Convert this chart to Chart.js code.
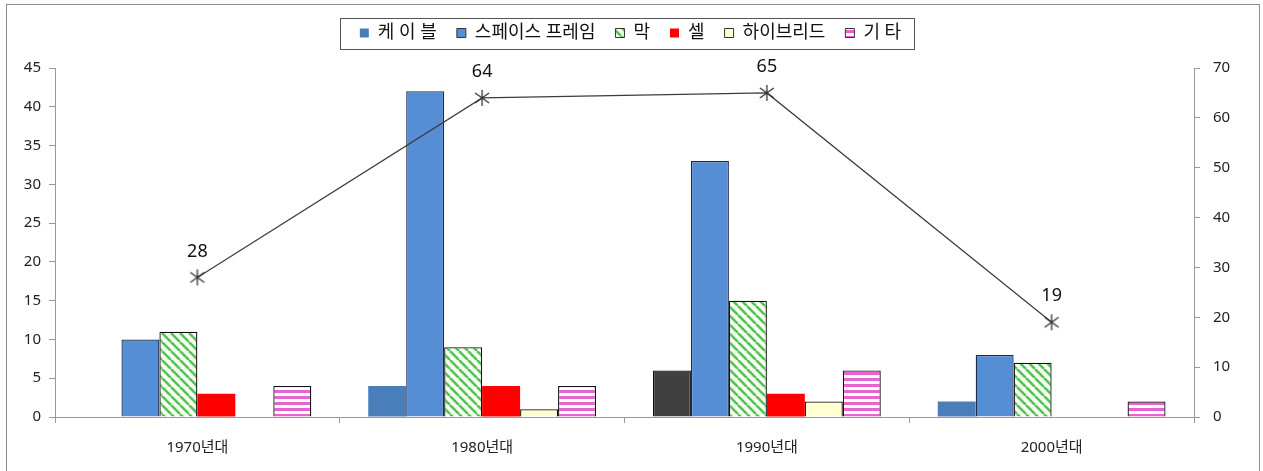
<!DOCTYPE html>
<html>
<head>
<meta charset="utf-8">
<script src="https://cdn.jsdelivr.net/npm/chart.js@4.4.1/dist/chart.umd.min.js"></script>
<style>
  html, body { margin: 0; padding: 0; background: #fff; }
  #wrap { width: 1263px; height: 471px; position: relative; }
</style>
</head>
<body>
<div id="wrap"><canvas id="c" width="1263" height="471"></canvas></div>
<script>
const decades = ["1970년대", "1980년대", "1990년대", "2000년대"];
const cable = [0, 4, 6, 2];
const spaceFrame = [10, 42, 33, 8];
const membrane = [11, 9, 15, 7];
const cell = [3, 4, 3, 0];
const hybrid = [0, 1, 2, 0];
const others = [4, 4, 6, 2];
const totals = [28, 64, 65, 19];

const FONT = "'Noto Sans', 'Noto Sans CJK KR', sans-serif";

// 빗금 패턴 생성
function makePattern(size, bg, draw) {
  const cv = document.createElement("canvas");
  cv.width = size;
  cv.height = size;
  const g = cv.getContext("2d");
  g.fillStyle = bg;
  g.fillRect(0, 0, size, size);
  draw(g);
  return g.createPattern(cv, "repeat");
}

const diagGreen = makePattern(9, "#f7fdf2", (g) => {
  g.strokeStyle = "#55c455";
  g.lineWidth = 2.6;
  g.beginPath();
  for (let k = -9; k <= 18; k += 9) {
    g.moveTo(k, 0);
    g.lineTo(k + 9, 9);
  }
  g.stroke();
});

const stripePink = makePattern(6, "#ffffff", (g) => {
  g.fillStyle = "#e963cf";
  g.fillRect(0, 0, 6, 3);
});

// 6갈래 별표 마커
const asterisk = (() => {
  const cv = document.createElement("canvas");
  cv.width = 18;
  cv.height = 18;
  const g = cv.getContext("2d");
  g.strokeStyle = "#333";
  g.lineWidth = 1.3;
  g.beginPath();
  g.moveTo(9, 1);
  g.lineTo(9, 17);
  g.moveTo(2, 4);
  g.lineTo(16, 14);
  g.moveTo(16, 4);
  g.lineTo(2, 14);
  g.stroke();
  return cv;
})();

const cableColors = ["#4a7ebb", "#4a7ebb", "#404040", "#4a7ebb"];

function zeroSafe(w) {
  return (ctx) => (ctx.raw === 0 ? 0 : w);
}

const outerBorder = {
  id: "outerBorder",
  beforeDraw(chart) {
    const c = chart.ctx;
    c.save();
    c.strokeStyle = "#8c8c8c";
    c.lineWidth = 1;
    c.strokeRect(6.5, 4.5, 1253, 470);
    c.restore();
  },
};

// 범례 아래 여백 확보
const legendGap = {
  id: "legendGap",
  beforeLayout(chart) {
    const lg = chart.legend;
    if (lg && !lg._gapPatched) {
      const fit = lg.fit;
      lg.fit = function () {
        fit.call(this);
        this.height += 16;
      };
      lg._gapPatched = true;
    }
  },
};

// 범례 테두리
const legendBox = {
  id: "legendBox",
  afterDraw(chart) {
    const lg = chart.legend;
    if (!lg || !lg.legendHitBoxes.length) return;
    let l = Infinity, r = -Infinity, t = Infinity, b = -Infinity;
    lg.legendHitBoxes.forEach((h) => {
      l = Math.min(l, h.left);
      r = Math.max(r, h.left + h.width);
      t = Math.min(t, h.top);
      b = Math.max(b, h.top + h.height);
    });
    const c = chart.ctx;
    c.save();
    c.strokeStyle = "#555";
    c.lineWidth = 1;
    c.strokeRect(Math.round(l - 20) + 0.5, Math.round(t - 6) + 0.5, Math.round(r - l + 33), Math.round(b - t + 13));
    c.restore();
  },
};

// 합계 라벨
const totalLabels = {
  id: "totalLabels",
  afterDatasetsDraw(chart) {
    const idx = chart.data.datasets.findIndex((d) => d.type === "line");
    const meta = chart.getDatasetMeta(idx);
    const c = chart.ctx;
    c.save();
    c.font = "18px " + FONT;
    c.fillStyle = "#111";
    c.textAlign = "center";
    c.textBaseline = "bottom";
    meta.data.forEach((pt, i) => {
      c.fillText(String(totals[i]), pt.x, pt.y - 17);
    });
    c.restore();
  },
};

const barBase = {
  type: "bar",
  yAxisID: "y",
  barPercentage: 1,
  categoryPercentage: 0.8,
  borderSkipped: "bottom",
  order: 2,
};

new Chart(document.getElementById("c"), {
  data: {
    labels: decades,
    datasets: [
      {
        type: "line",
        label: "합계",
        data: totals,
        yAxisID: "y2",
        borderColor: "#3c3c3c",
        borderWidth: 1.2,
        tension: 0,
        pointStyle: asterisk,
        pointRadius: 8,
        order: 0,
      },
      {
        ...barBase,
        label: "케 이 블",
        data: cable,
        backgroundColor: (ctx) => cableColors[ctx.dataIndex] || cableColors[0],
        borderColor: "#111",
        borderWidth: (ctx) => (ctx.dataIndex === 2 ? 1.2 : 0),
      },
      {
        ...barBase,
        label: "스페이스 프레임",
        data: spaceFrame,
        backgroundColor: "#558ed5",
        borderColor: "#1c2a48",
        borderWidth: zeroSafe(1.3),
      },
      {
        ...barBase,
        label: "막",
        data: membrane,
        backgroundColor: diagGreen,
        borderColor: "#111",
        borderWidth: zeroSafe(1.3),
      },
      {
        ...barBase,
        label: "셀",
        data: cell,
        backgroundColor: "#ff0000",
        borderColor: "#ff0000",
        borderWidth: 0,
      },
      {
        ...barBase,
        label: "하이브리드",
        data: hybrid,
        backgroundColor: "#ffffd0",
        borderColor: "#111",
        borderWidth: zeroSafe(1.3),
      },
      {
        ...barBase,
        label: "기 타",
        data: others,
        backgroundColor: stripePink,
        borderColor: "#111",
        borderWidth: zeroSafe(1.3),
      },
    ],
  },
  options: {
    responsive: false,
    animation: false,
    layout: { padding: { top: 4, left: 6, right: 8, bottom: 0 } },
    plugins: {
      legend: {
        position: "top",
        labels: {
          boxWidth: 9,
          boxHeight: 9,
          padding: 20,
          color: "#111",
          font: { size: 18, family: FONT },
          filter: (item, data) => data.datasets[item.datasetIndex].type !== "line",
          generateLabels(chart) {
            const items = Chart.defaults.plugins.legend.labels.generateLabels(chart);
            items.forEach((it) => {
              const ds = chart.data.datasets[it.datasetIndex];
              if (ds && ds.label !== "케 이 블" && ds.label !== "셀") {
                it.lineWidth = 1;
                it.strokeStyle = "#333";
              }
            });
            return items;
          },
        },
      },
      tooltip: { enabled: false },
    },
    scales: {
      x: {
        grid: {
          offset: true,
          drawOnChartArea: false,
          tickLength: 6,
          color: "#999",
        },
        border: { color: "#999" },
        ticks: { color: "#222", font: { size: 15, family: FONT }, padding: 16 },
        afterFit: (s) => { s.height = 54; },
      },
      y: {
        position: "left",
        min: 0,
        max: 45,
        ticks: { stepSize: 5, color: "#222", font: { size: 15, family: FONT }, padding: 8 },
        grid: { drawOnChartArea: false, tickLength: 6, color: "#999" },
        border: { color: "#999" },
        afterFit: (s) => { s.width = 49; },
      },
      y2: {
        position: "right",
        min: 0,
        max: 70,
        ticks: { stepSize: 10, color: "#222", font: { size: 15, family: FONT }, padding: 13 },
        grid: { drawOnChartArea: false, tickLength: 6, color: "#999" },
        border: { color: "#999" },
        afterFit: (s) => { s.width = 61; },
      },
    },
  },
  plugins: [outerBorder, legendGap, legendBox, totalLabels],
});
</script>
</body>
</html>
